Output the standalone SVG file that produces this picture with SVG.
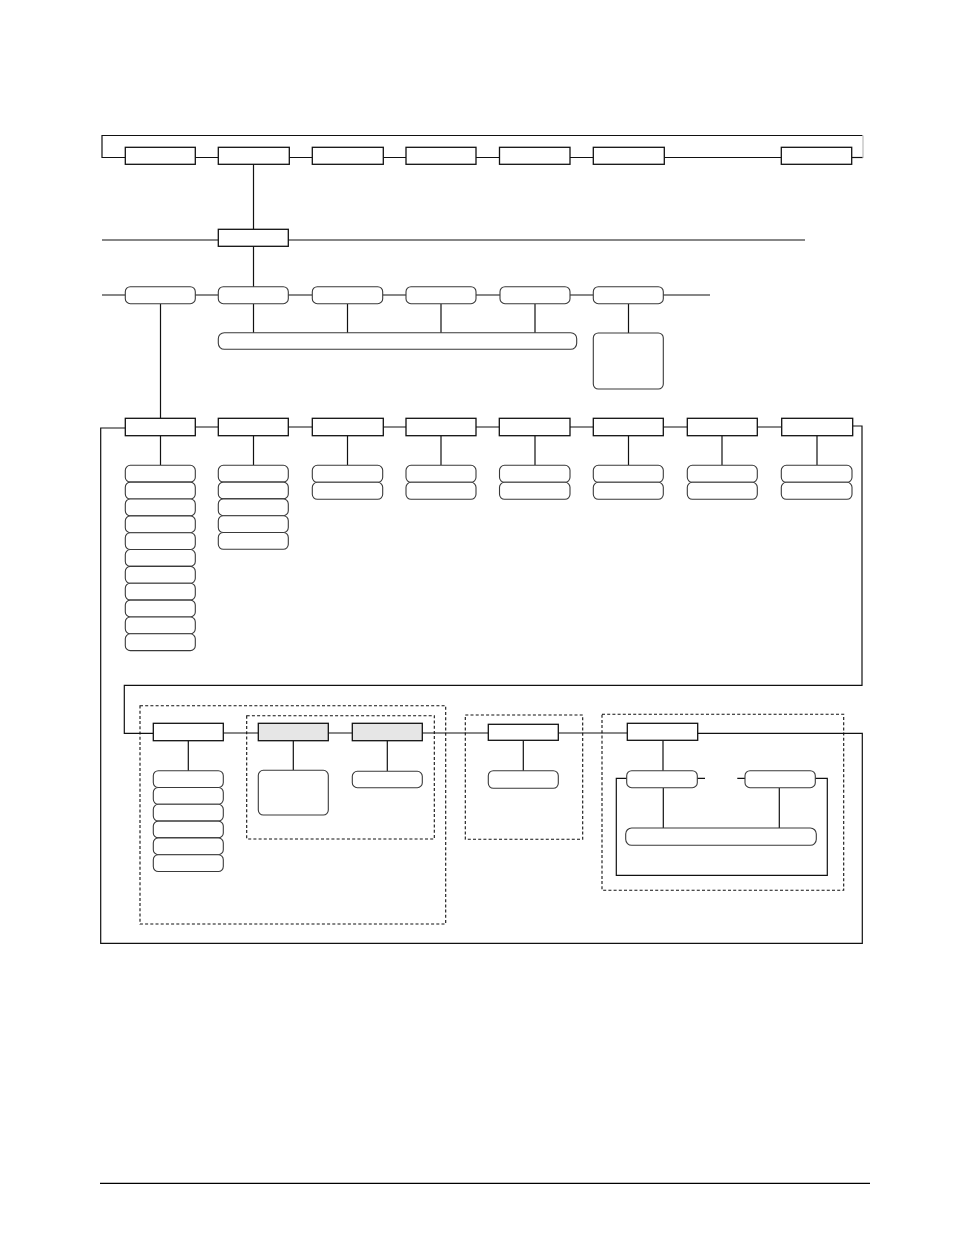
<svg xmlns="http://www.w3.org/2000/svg" width="954" height="1235" viewBox="0 0 954 1235">
<style>
.b{fill:#fff;stroke:#111;stroke-width:1.3}
.g{fill:#e6e6e6;stroke:#111;stroke-width:1.3}
.r{fill:#fff;stroke:#3a3a3a;stroke-width:1.1}
.c{fill:none;stroke:#111;stroke-width:1.2}
.d{fill:none;stroke:#111;stroke-width:1.1;stroke-dasharray:3,2.2}
</style>
<rect width="954" height="1235" fill="#fff"/>
<g id="connectors">
<path class="c" d="M125,157.5H102V135.5H862.5"/>
<path class="c" d="M852,157.5H863" />
<path d="M863,135.5V158" fill="none" stroke="#bbb" stroke-width="1.2"/>
<path class="c" d="M195,157.5H218M289,157.5H312M383,157.5H406M476,157.5H499M570,157.5H593M664,157.5H781"/>
<path class="c" d="M253.5,164V229"/>
<path class="c" d="M102,240H218M288,240H805"/>
<path class="c" d="M253.5,246V287"/>
<path class="c" d="M102,295H125M195,295H218M288,295H312M383,295H406M476,295H500M570,295H593M663,295H710"/>
<path class="c" d="M253.5,304V333M347.5,304V333M441,304V333M535,304V333M628.5,304V333"/>
<path class="c" d="M160.5,304V418"/>
<path class="c" d="M125,428H100.7V943.3H862.3V733.3H697.7"/>
<path class="c" d="M195,427H218M288,427H312M383,427H406M476,427H499M570,427H593M663,427H687M757,427H781"/>
<path class="c" d="M852.5,426H862V685.3H124.3V733.3H153.3"/>
<path class="c" d="M160.5,436V465M253.5,436V465M347.5,436V465M441,436V465M535,436V465M628.5,436V465M722,436V465M817,436V465"/>
<path class="c" d="M223.3,733H258.3M328.3,733H352.3M422.3,733H488.3M558.3,733H627.3"/>
<path class="c" d="M188.3,741V771M293.3,741V770M387.3,741V771M523.3,741V771M663,741V771"/>
<path class="c" d="M697,778.3H705M737.3,778.3H745"/>
<path class="c" d="M627,778.3H616.3V875.3H827.3V778.3H815"/>
<path class="c" d="M663.3,788V828M779.3,788V828"/>
<path d="M100,1183.3H870" fill="none" stroke="#000" stroke-width="1.3"/>
</g>
<g id="row1">
<rect id="n1a" class="b" x="125.3" y="147.3" width="70" height="17"/>
<rect id="n1b" class="b" x="218.3" y="147.3" width="71" height="17"/>
<rect id="n1c" class="b" x="312.3" y="147.3" width="71" height="17"/>
<rect id="n1d" class="b" x="406" y="147.3" width="70" height="17"/>
<rect id="n1e" class="b" x="499.5" y="147.3" width="70.5" height="17"/>
<rect id="n1f" class="b" x="593.3" y="147.3" width="71" height="17"/>
<rect id="n1g" class="b" x="781.3" y="147.3" width="70.4" height="17"/>
</g>
<g id="row2">
<rect id="n2" class="b" x="218.3" y="229.3" width="70" height="17"/>
</g>
<g id="row3">
<rect id="n3a" class="r" x="125.3" y="286.7" width="70" height="17" rx="5"/>
<rect id="n3b" class="r" x="218.3" y="286.7" width="70" height="17" rx="5"/>
<rect id="n3c" class="r" x="312.3" y="286.7" width="70.4" height="17" rx="5"/>
<rect id="n3d" class="r" x="406" y="286.7" width="70" height="17" rx="5"/>
<rect id="n3e" class="r" x="500" y="286.7" width="70" height="17" rx="5"/>
<rect id="n3f" class="r" x="593.3" y="286.7" width="70" height="17" rx="5"/>
<rect id="n3bar" class="r" x="218.3" y="332.7" width="358.4" height="16.6" rx="6"/>
<rect id="n3box" class="r" x="593.3" y="333" width="70" height="56" rx="5"/>
</g>
<g id="row4">
<rect id="n4a" class="b" x="125.3" y="418.3" width="70" height="17.4"/>
<rect id="n4b" class="b" x="218.3" y="418.3" width="70" height="17.4"/>
<rect id="n4c" class="b" x="312.3" y="418.3" width="71" height="17.4"/>
<rect id="n4d" class="b" x="406" y="418.3" width="70" height="17.4"/>
<rect id="n4e" class="b" x="499.3" y="418.3" width="70.7" height="17.4"/>
<rect id="n4f" class="b" x="593.3" y="418.3" width="70" height="17.4"/>
<rect id="n4g" class="b" x="687.3" y="418.3" width="70" height="17.4"/>
<rect id="n4h" class="b" x="781.7" y="418.3" width="71" height="17.4"/>
</g>
<g id="row4-children">
<g id="c4a">
<rect class="r" x="125.3" y="465.3" width="70" height="16.85" rx="5"/>
<rect class="r" x="125.3" y="482.15" width="70" height="16.85" rx="5"/>
<rect class="r" x="125.3" y="499" width="70" height="16.85" rx="5"/>
<rect class="r" x="125.3" y="515.85" width="70" height="16.85" rx="5"/>
<rect class="r" x="125.3" y="532.7" width="70" height="16.85" rx="5"/>
<rect class="r" x="125.3" y="549.55" width="70" height="16.85" rx="5"/>
<rect class="r" x="125.3" y="566.4" width="70" height="16.85" rx="5"/>
<rect class="r" x="125.3" y="583.25" width="70" height="16.85" rx="5"/>
<rect class="r" x="125.3" y="600.1" width="70" height="16.85" rx="5"/>
<rect class="r" x="125.3" y="616.95" width="70" height="16.85" rx="5"/>
<rect class="r" x="125.3" y="633.8" width="70" height="16.85" rx="5"/>
</g>
<g id="c4b">
<rect class="r" x="218.3" y="465.3" width="70" height="16.8" rx="5"/>
<rect class="r" x="218.3" y="482.1" width="70" height="16.8" rx="5"/>
<rect class="r" x="218.3" y="498.9" width="70" height="16.8" rx="5"/>
<rect class="r" x="218.3" y="515.7" width="70" height="16.8" rx="5"/>
<rect class="r" x="218.3" y="532.5" width="70" height="16.8" rx="5"/>
</g>
<g id="c4c"><rect class="r" x="312.3" y="465.3" width="70.4" height="17" rx="5"/><rect class="r" x="312.3" y="482.3" width="70.4" height="17" rx="5"/></g>
<g id="c4d"><rect class="r" x="406" y="465.3" width="70" height="17" rx="5"/><rect class="r" x="406" y="482.3" width="70" height="17" rx="5"/></g>
<g id="c4e"><rect class="r" x="499.5" y="465.3" width="70.5" height="17" rx="5"/><rect class="r" x="499.5" y="482.3" width="70.5" height="17" rx="5"/></g>
<g id="c4f"><rect class="r" x="593.3" y="465.3" width="70" height="17" rx="5"/><rect class="r" x="593.3" y="482.3" width="70" height="17" rx="5"/></g>
<g id="c4g"><rect class="r" x="687.3" y="465.3" width="70" height="17" rx="5"/><rect class="r" x="687.3" y="482.3" width="70" height="17" rx="5"/></g>
<g id="c4h"><rect class="r" x="781.3" y="465.3" width="70.7" height="17" rx="5"/><rect class="r" x="781.3" y="482.3" width="70.7" height="17" rx="5"/></g>
</g>
<g id="groups">
<rect class="d" x="140" y="705.7" width="305.7" height="218.3"/>
<rect class="d" x="246.7" y="715.7" width="187.6" height="123.3"/>
<rect class="d" x="465.3" y="715" width="117.4" height="124.3"/>
<rect class="d" x="602" y="714.3" width="241.7" height="176"/>
</g>
<g id="row5">
<rect id="n5a" class="b" x="153.3" y="723.3" width="70" height="17.4"/>
<rect id="n5b" class="g" x="258.3" y="723.3" width="70" height="17.4"/>
<rect id="n5c" class="g" x="352.3" y="723.3" width="70" height="17.4"/>
<rect id="n5d" class="b" x="488.3" y="724.3" width="70" height="16"/>
<rect id="n5e" class="b" x="627.3" y="723.3" width="70.4" height="17"/>
</g>
<g id="row5-children">
<g id="c5a">
<rect class="r" x="153.3" y="770.7" width="70" height="16.8" rx="5"/>
<rect class="r" x="153.3" y="787.5" width="70" height="16.8" rx="5"/>
<rect class="r" x="153.3" y="804.3" width="70" height="16.8" rx="5"/>
<rect class="r" x="153.3" y="821.1" width="70" height="16.8" rx="5"/>
<rect class="r" x="153.3" y="837.9" width="70" height="16.8" rx="5"/>
<rect class="r" x="153.3" y="854.7" width="70" height="16.8" rx="5"/>
</g>
<rect id="c5b" class="r" x="258.3" y="770.3" width="70" height="44.7" rx="5"/>
<rect id="c5c" class="r" x="352.3" y="771.3" width="70" height="16.4" rx="5"/>
<rect id="c5d" class="r" x="488.3" y="770.7" width="70" height="17.6" rx="5"/>
<rect id="c5eA" class="r" x="626.7" y="770.7" width="70.6" height="17" rx="5"/>
<rect id="c5eB" class="r" x="745" y="770.7" width="70.3" height="17" rx="5"/>
<rect id="c5bar" class="r" x="625.7" y="828" width="190.6" height="17.3" rx="6"/>
</g>
</svg>
